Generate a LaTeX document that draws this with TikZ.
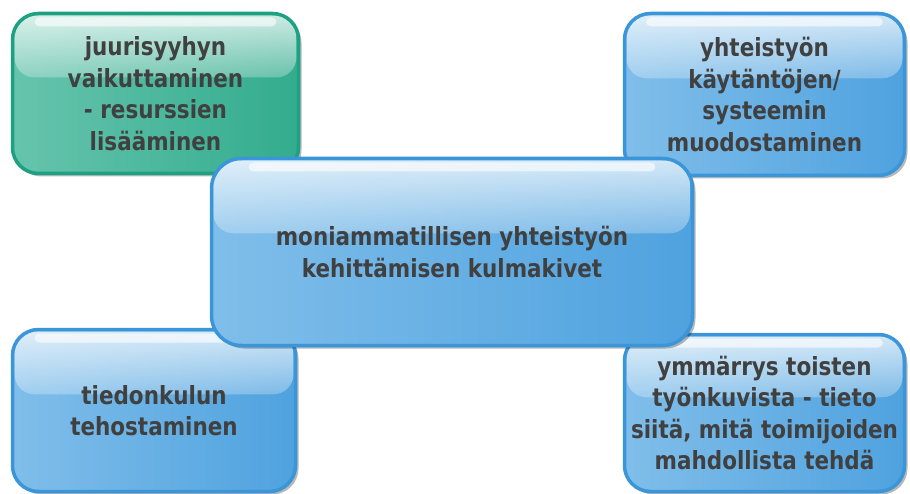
\documentclass[tikz,border=0pt]{standalone}
\usepackage{fontspec}
\setmainfont{DejaVu Sans}[FakeStretch=0.86]
\usetikzlibrary{shadows,fadings,calc}

\definecolor{txt}{HTML}{404040}
\definecolor{bluerim}{HTML}{3A96D9}
\definecolor{blueL}{HTML}{80BEEA}
\definecolor{blueR}{HTML}{4FA2DF}
\definecolor{greenrim}{HTML}{1EA183}
\definecolor{greenL}{HTML}{66C4AD}
\definecolor{greenR}{HTML}{33AC8E}

% white gloss over the upper part of each card
\tikzfading[name=glossfade, top color=transparent!25, bottom color=transparent!74]

\tikzset{
  card/.style n args={3}{
    draw=#1, line width=3.5pt, rounded corners=26pt,
    align=center, text=txt, inner sep=0pt,
    font=\bfseries\fontsize{25}{31.5}\selectfont,
    drop shadow={shadow xshift=3pt, shadow yshift=-3pt, fill=black, opacity=0.28},
    path picture={
      \path (path picture bounding box.south west) coordinate (gsw)
            (path picture bounding box.north east) coordinate (gne)
            (path picture bounding box.north west) coordinate (gnw)
            (path picture bounding box.south east) coordinate (gse);
      \shade[left color=#2, right color=#3] (gsw) rectangle (gne);
      \fill[white, path fading=glossfade, rounded corners=20pt]
        ($(gnw)+(2pt,-2pt)$) rectangle ($(gne)!0.40!(gse)+(-2pt,0)$);
      \fill[white, opacity=0.6, rounded corners=5pt]
        ($(gnw)!0.077!(gne)+(0,-4pt)$) rectangle ($(gne)!0.077!(gnw)+(0,-13pt)$);
    }},
  bluecard/.style={card={bluerim}{blueL}{blueR}},
  greencard/.style={card={greenrim}{greenL}{greenR}},
}

\begin{document}
\begin{tikzpicture}[x=1pt,y=1pt]
  \useasboundingbox (0,0) rectangle (910,-494);

  \node[greencard, minimum width=286pt, minimum height=160pt] (root) at (155.5,-93.5)
    {juurisyyhyn\\vaikuttaminen\\- resurssien\\lisääminen};
  \node[bluecard, minimum width=280pt, minimum height=162pt] (practice) at (764.5,-94.5)
    {yhteistyön\\käytäntöjen/\\systeemin\\muodostaminen};
  \node[bluecard, minimum width=283pt, minimum height=162pt] (info) at (154,-410.5)
    {tiedonkulun\\tehostaminen};
  \node[bluecard, minimum width=280pt, minimum height=157pt] (roles) at (764.5,-413)
    {ymmärrys toisten\\työnkuvista - tieto\\siitä, mitä toimijoiden\\mahdollista tehdä};

  \node[bluecard, rounded corners=30pt, minimum width=481pt, minimum height=187pt] (core) at (452,-252)
    {moniammatillisen yhteistyön\\kehittämisen kulmakivet};
\end{tikzpicture}
\end{document}
